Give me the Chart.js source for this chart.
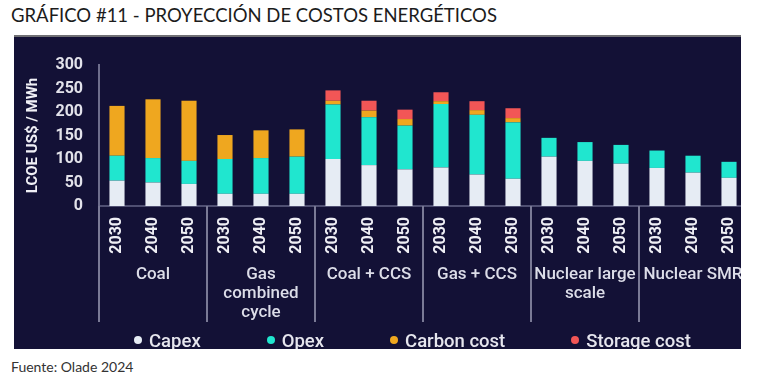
<!DOCTYPE html>
<html lang="es">
<head>
<meta charset="UTF-8">
<title>Gráfico 11</title>
<script src="https://cdn.jsdelivr.net/npm/chart.js"></script>
<style>
  body { margin: 0; background: #fff; width: 781px; height: 376px; position: relative; overflow: hidden; }
  .titulo { position: absolute; left: 11px; top: 4px; font-family: Lato, sans-serif; font-size: 18.5px; color: #1c1c1c; white-space: nowrap; }
  .caja { position: absolute; left: 14px; top: 35px; width: 727px; height: 312px; background: #131136; border-top: 2px solid #707074; overflow: hidden; }
  .caja canvas { position: absolute; left: 0; top: 0; }
  .leyenda { position: absolute; left: 0; top: 293px; width: 797px; display: flex; justify-content: center; gap: 66px;
             font-family: Roboto, sans-serif; font-weight: 500; font-size: 18.5px; color: #e6e6ee; line-height: 22px; }
  .leyenda span.dot { display: inline-block; width: 8px; height: 8px; border-radius: 50%; margin-right: 7px; vertical-align: 3px; }
  .fuente { position: absolute; left: 11px; top: 358px; font-family: Lato, sans-serif; font-size: 14px; color: #333; }
</style>
</head>
<body>
<div class="titulo">GRÁFICO #11 - PROYECCIÓN DE COSTOS ENERGÉTICOS</div>
<div class="caja">
  <canvas id="grafico" width="797" height="312"></canvas>
  <div class="leyenda" id="leyenda"></div>
</div>
<div class="fuente">Fuente: Olade 2024</div>

<script>
// datos (US$/MWh)
const years = ['2030', '2040', '2050', '2030', '2040', '2050', '2030', '2040', '2050',
               '2030', '2040', '2050', '2030', '2040', '2050', '2030', '2040', '2050'];
const groups = ['Coal', ['Gas', 'combined', 'cycle'], 'Coal + CCS', 'Gas + CCS', ['Nuclear large', 'scale'], 'Nuclear SMR'];
const capex   = [54, 50, 47, 26, 26, 26, 100, 87, 78, 82, 67, 58, 105, 96, 90, 81, 71, 60];
const opex    = [53, 52, 49, 74, 76, 79, 116, 102, 93, 135, 127, 120, 40, 40, 40, 37, 36, 34];
const carbon  = [106, 125, 128, 51, 59, 58, 8, 14, 14, 6, 10, 9, null, null, null, null, null, null];
const storage = [null, null, null, null, null, null, 22, 21, 20, 19, 19, 21, null, null, null, null, null, null];
const yTicks  = [0, 50, 100, 150, 200, 250, 300];

const series = [
  { label: 'Capex', data: capex, color: '#e6ecf4' },
  { label: 'Opex', data: opex, color: '#20e6cf' },
  { label: 'Carbon cost', data: carbon, color: '#efa71f' },
  { label: 'Storage cost', data: storage, color: '#f25656' }
];

// leyenda en html
const leyenda = document.getElementById('leyenda');
series.forEach(s => {
  const item = document.createElement('div');
  item.innerHTML = '<span class="dot" style="background:' + s.color + '"></span>' + s.label;
  leyenda.appendChild(item);
});

// lineas separadoras entre grupos, debajo del eje
const separadores = {
  id: 'separadores',
  afterDraw(chart) {
    const x = chart.scales.x;
    const ctx = chart.ctx;
    const half = (x.getPixelForValue(1) - x.getPixelForValue(0)) / 2;
    const fondo = chart.scales.x2.bottom + 2;
    ctx.save();
    ctx.strokeStyle = '#7a7a96';
    ctx.lineWidth = 2;
    for (let i = 0; i <= years.length; i += 3) {
      const px = Math.round(x.getPixelForValue(i) - half);
      ctx.beginPath();
      ctx.moveTo(px, chart.chartArea.bottom);
      ctx.lineTo(px, fondo);
      ctx.stroke();
    }
    ctx.restore();
  }
};

Chart.defaults.font.family = 'Roboto';

new Chart(document.getElementById('grafico'), {
  type: 'bar',
  data: {
    labels: years,
    datasets: series.map(s => ({
      label: s.label,
      data: s.data,
      backgroundColor: s.color,
      barPercentage: 0.42,
      categoryPercentage: 1,
      xAxisID: 'x'
    }))
  },
  options: {
    responsive: false,
    animation: false,
    layout: { padding: { left: 4, right: 64, top: 28, bottom: 29 } },
    plugins: { legend: { display: false }, tooltip: { enabled: false } },
    scales: {
      x: {
        stacked: true,
        afterFit(scale) { scale.height = 48; },
        grid: { display: false, drawTicks: false },
        border: { color: '#4f4f72', width: 2 },
        ticks: { color: '#eeeef4', font: { size: 16, weight: 'bold' }, minRotation: 90, maxRotation: 90, padding: 11, autoSkip: false }
      },
      x2: {
        type: 'category',
        labels: groups,
        position: 'bottom',
        offset: true,
        afterFit(scale) { scale.height = 66; },
        grid: { display: false, drawTicks: false },
        border: { display: false },
        ticks: { color: '#dcdde8', font: { size: 17, weight: '500', lineHeight: 1.12 }, padding: 11, maxRotation: 0, autoSkip: false }
      },
      y: {
        stacked: true,
        min: 0,
        max: 300,
        afterBuildTicks(scale) { scale.ticks = yTicks.map(v => ({ value: v })); },
        afterFit(scale) { scale.width = 81; },
        grid: { display: false, drawTicks: false },
        border: { color: '#6e6e8c', width: 2 },
        ticks: { color: '#e2e2ea', font: { size: 16, weight: 'bold' }, padding: 16, autoSkip: false },
        title: { display: true, text: 'LCOE US$ / MWh', color: '#f0f0f6', font: { size: 15, weight: 'bold' }, padding: { top: 6, bottom: 0 } }
      }
    }
  },
  plugins: [separadores]
});
</script>
</body>
</html>
